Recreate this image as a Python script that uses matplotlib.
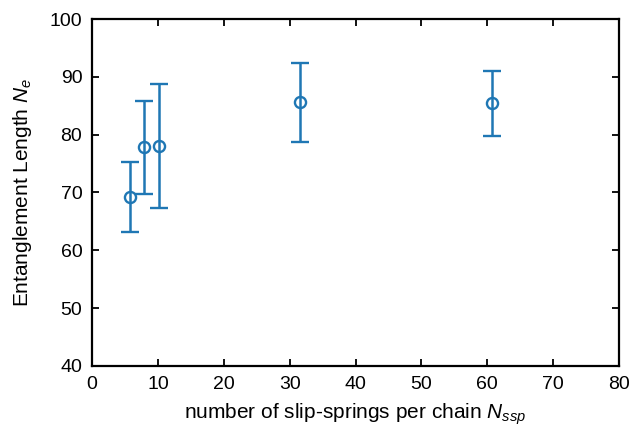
import numpy as np
import matplotlib
matplotlib.use('Agg')
import matplotlib.pyplot as plt

plt.rcParams['font.family'] = ['Liberation Sans', 'DejaVu Sans']
plt.rcParams['mathtext.fontset'] = 'custom'
plt.rcParams['mathtext.rm'] = 'Liberation Sans'
plt.rcParams['mathtext.it'] = 'Liberation Sans:italic'

# Data
n_ssp = [5.7, 7.9, 10.2, 31.5, 60.7]
n_e = [69.2, 77.8, 78.1, 85.6, 85.4]
n_e_err = [6.0, 8.1, 10.7, 6.8, 5.6]

fig = plt.figure(figsize=(6.36, 4.28), dpi=100)
ax = fig.add_axes([0.1447, 0.1449, 0.8286, 0.8107])

ax.errorbar(n_ssp, n_e, yerr=n_e_err, fmt='o', color='#1f77b4',
            mfc='none', mec='#1f77b4', ms=8, mew=1.7,
            elinewidth=1.8, capsize=6.5, capthick=1.8)

ax.set_xlim(0, 80)
ax.set_ylim(40, 100)
ax.set_xticks(np.arange(0, 81, 10))
ax.set_yticks(np.arange(40, 101, 10))
ax.tick_params(direction='in', top=True, right=True, length=5, width=1.3,
               labelsize=14, pad=7)
for s in ax.spines.values():
    s.set_linewidth(1.6)

ax.set_xlabel('number of slip-springs per chain $N_{ssp}$', fontsize=15, labelpad=6)
ax.set_ylabel('Entanglement Length $N_e$', fontsize=15, labelpad=11)

fig.savefig('out.png', dpi=100)
